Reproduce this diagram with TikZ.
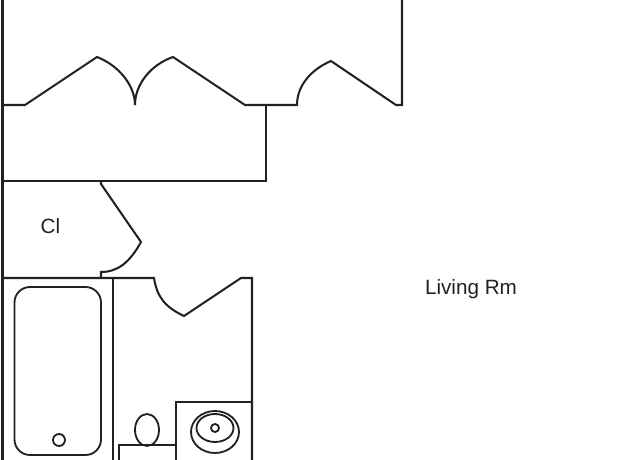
\documentclass[tikz,border=0pt]{standalone}
\usepackage{fontspec}
\setmainfont{Liberation Sans}
\def\myplanscale{0.025cm}
\definecolor{mywall}{gray}{0.13}

\tikzset{wall/.style = {draw = mywall, line width = 1.45pt, line join = miter},
	fixture/.style = {draw = mywall, line width = 1.3pt},
	roomlabel/.style = {font = \fontsize{14.7}{17}\selectfont, text = mywall, inner sep = 0pt}}

\begin{document}
\begin{tikzpicture}[x = \myplanscale, y = -\myplanscale]
\useasboundingbox (0,0) rectangle (640,460);
\clip (0,0) rectangle (640,460);

\draw [wall] (2.5,0) -- (2.5,460); %outer wall
\draw [wall] (3,105) -- (25,105) -- (97,57) .. controls (118,65) and (135,85) .. (135,105); %left door
\draw [wall] (135,105) .. controls (135,85) and (150,65) .. (173,57) -- (245,105) -- (297,105) .. controls (297,85) and (312,69) .. (331,61) -- (396,105) -- (402,105) -- (402,0); %right doors
\draw [wall] (266,105) -- (266,181) -- (3,181); %closet top

\draw [wall] (101,181) -- (101,184) -- (141,242) .. controls (130,262) and (118,272) .. (101,272) -- (101,278); %closet door
\draw [wall] (3,278) -- (154,278) .. controls (157,297) and (165,307) .. (184,316) -- (241,278) -- (252,278) -- (252,460); %bath door
\draw [wall] (113,278) -- (113,460); %bath divider

\draw [fixture, rounded corners = 11] (14.5,287) rectangle (101,455); %tub
\draw [fixture] (59,440) circle [radius = 6];
\draw [fixture] (147,430) circle [x radius = 12, y radius = 16]; %toilet
\draw [fixture] (119,460) -- (119,445) -- (176,445);
\draw [fixture] (176,460) -- (176,402) -- (252,402); %vanity
\draw [fixture] (215,432) circle [x radius = 24, y radius = 21]; %sink
\draw [fixture] (215,428) circle [x radius = 18.5, y radius = 14];
\draw [fixture] (215,428) circle [radius = 4];

\node [roomlabel] (closet) at (50.5,226) {Cl};
\node [roomlabel] (living) at (471,289) {Living Rm};
\end{tikzpicture}
\end{document}
